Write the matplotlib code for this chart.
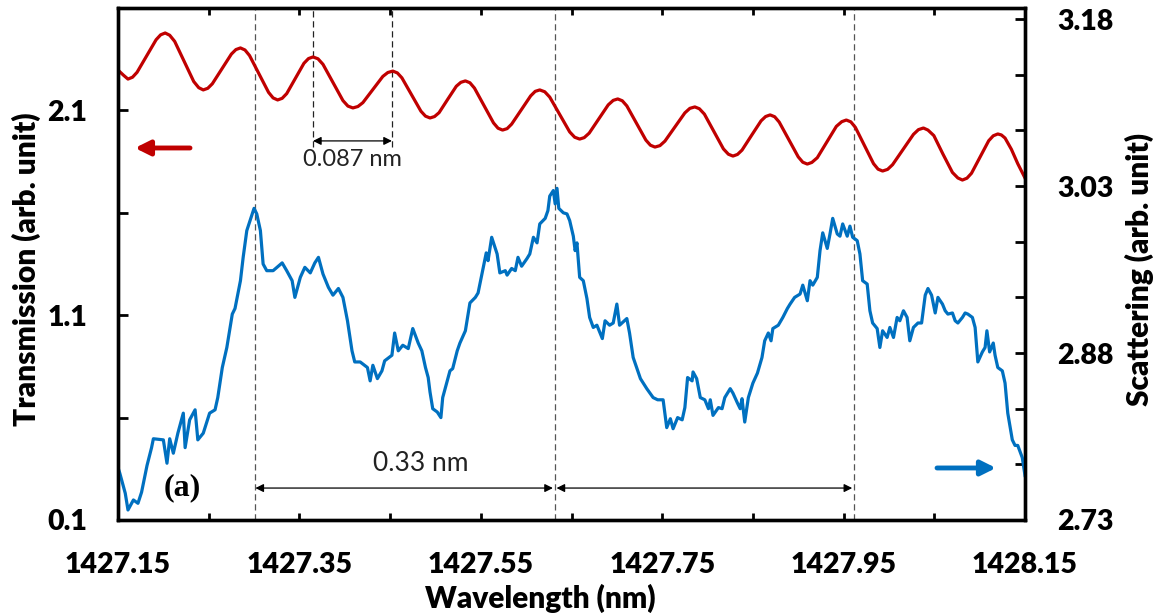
import matplotlib
matplotlib.use("Agg")
import matplotlib.pyplot as plt
from matplotlib.ticker import FixedLocator, FormatStrFormatter

plt.rcParams['font.family'] = ['Lato', 'DejaVu Sans']

# ---- transmission trace (left axis) ----
trans_wl = [
    1427.150, 1427.156, 1427.161,
    1427.166, 1427.171, 1427.1815, 1427.192, 1427.197, 1427.202,
    1427.207, 1427.2125, 1427.223, 1427.2335, 1427.239, 1427.244,
    1427.249, 1427.254, 1427.2645, 1427.275, 1427.280, 1427.285,
    1427.290, 1427.295, 1427.3055, 1427.316, 1427.321, 1427.326,
    1427.331, 1427.336, 1427.3455, 1427.355, 1427.360, 1427.365,
    1427.3705, 1427.376, 1427.387, 1427.398, 1427.4035, 1427.409,
    1427.4145, 1427.420, 1427.431, 1427.442, 1427.4475, 1427.453,
    1427.458, 1427.463, 1427.4735, 1427.484, 1427.489, 1427.494,
    1427.499, 1427.504, 1427.5135, 1427.523, 1427.528, 1427.533,
    1427.538, 1427.543, 1427.5535, 1427.564, 1427.569, 1427.574,
    1427.579, 1427.584, 1427.5945, 1427.605, 1427.610, 1427.615,
    1427.6205, 1427.626, 1427.637, 1427.648, 1427.6535, 1427.659,
    1427.664, 1427.6695, 1427.680, 1427.6905, 1427.696, 1427.701,
    1427.706, 1427.711, 1427.7215, 1427.732, 1427.737, 1427.742,
    1427.7475, 1427.753, 1427.764, 1427.775, 1427.7805, 1427.786,
    1427.791, 1427.7965, 1427.807, 1427.8175, 1427.823, 1427.828,
    1427.833, 1427.838, 1427.8485, 1427.859, 1427.864, 1427.869,
    1427.874, 1427.879, 1427.8895, 1427.900, 1427.905, 1427.910,
    1427.915, 1427.921, 1427.9315, 1427.942, 1427.948, 1427.953,
    1427.958, 1427.963, 1427.973, 1427.983, 1427.988, 1427.993,
    1427.9985, 1428.004, 1428.0155, 1428.027, 1428.0325, 1428.038,
    1428.043, 1428.0495, 1428.0595, 1428.070, 1428.076, 1428.081,
    1428.086, 1428.091, 1428.1005, 1428.110, 1428.115, 1428.120,
    1428.124, 1428.128, 1428.135, 1428.142, 1428.150,
]
trans_val = [
    2.297, 2.272, 2.253,
    2.262, 2.286, 2.366, 2.445, 2.469, 2.478,
    2.467, 2.437, 2.339, 2.241, 2.211, 2.200,
    2.208, 2.230, 2.303, 2.375, 2.397, 2.405,
    2.395, 2.368, 2.278, 2.188, 2.161, 2.151,
    2.159, 2.182, 2.256, 2.330, 2.353, 2.361,
    2.352, 2.325, 2.237, 2.148, 2.121, 2.112,
    2.119, 2.138, 2.202, 2.266, 2.285, 2.292,
    2.283, 2.259, 2.178, 2.096, 2.072, 2.063,
    2.070, 2.089, 2.154, 2.218, 2.237, 2.244,
    2.235, 2.209, 2.124, 2.039, 2.013, 2.004,
    2.011, 2.033, 2.102, 2.171, 2.193, 2.200,
    2.191, 2.165, 2.080, 1.995, 1.969, 1.960,
    1.967, 1.989, 2.058, 2.127, 2.149, 2.156,
    2.147, 2.122, 2.039, 1.955, 1.930, 1.921,
    1.928, 1.950, 2.019, 2.088, 2.110, 2.117,
    2.108, 2.082, 1.997, 1.912, 1.886, 1.877,
    1.885, 1.906, 1.978, 2.049, 2.070, 2.078,
    2.069, 2.043, 1.958, 1.873, 1.847, 1.838,
    1.846, 1.869, 1.946, 2.022, 2.045, 2.053,
    2.044, 2.017, 1.929, 1.840, 1.813, 1.804,
    1.812, 1.835, 1.909, 1.983, 2.006, 2.014,
    2.004, 1.977, 1.887, 1.797, 1.770, 1.760,
    1.769, 1.793, 1.873, 1.952, 1.976, 1.985,
    1.980, 1.965, 1.910, 1.840, 1.770,
]

# ---- scattering trace (right axis) ----
scat_wl = [
    1427.150, 1427.152, 1427.158, 1427.161, 1427.167, 1427.172, 1427.176, 1427.182,
    1427.187, 1427.189, 1427.200, 1427.204, 1427.207, 1427.211, 1427.216, 1427.222,
    1427.224, 1427.229, 1427.235, 1427.238, 1427.244, 1427.251, 1427.257, 1427.260,
    1427.265, 1427.270, 1427.276, 1427.279, 1427.285, 1427.288, 1427.292, 1427.298,
    1427.300, 1427.303, 1427.307, 1427.310, 1427.314, 1427.321, 1427.331, 1427.336,
    1427.342, 1427.345, 1427.351, 1427.356, 1427.362, 1427.367, 1427.371, 1427.376,
    1427.382, 1427.387, 1427.393, 1427.398, 1427.403, 1427.408, 1427.411, 1427.417,
    1427.425, 1427.428, 1427.431, 1427.436, 1427.441, 1427.444, 1427.452, 1427.455,
    1427.459, 1427.464, 1427.470, 1427.475, 1427.481, 1427.485, 1427.489, 1427.492,
    1427.494, 1427.497, 1427.502, 1427.506, 1427.508, 1427.513, 1427.516, 1427.519,
    1427.524, 1427.527, 1427.533, 1427.538, 1427.544, 1427.547, 1427.552, 1427.556,
    1427.558, 1427.562, 1427.568, 1427.571, 1427.577, 1427.579, 1427.584, 1427.588,
    1427.591, 1427.595, 1427.601, 1427.604, 1427.608, 1427.612, 1427.615, 1427.621,
    1427.624, 1427.626, 1427.630, 1427.632, 1427.634, 1427.636, 1427.641, 1427.645,
    1427.648, 1427.652, 1427.654, 1427.656, 1427.659, 1427.663, 1427.667, 1427.670,
    1427.674, 1427.678, 1427.684, 1427.687, 1427.692, 1427.696, 1427.700, 1427.703,
    1427.711, 1427.714, 1427.718, 1427.726, 1427.733, 1427.740, 1427.745, 1427.751,
    1427.755, 1427.759, 1427.762, 1427.767, 1427.772, 1427.775, 1427.778, 1427.783,
    1427.784, 1427.788, 1427.792, 1427.797, 1427.801, 1427.803, 1427.806, 1427.812,
    1427.816, 1427.819, 1427.825, 1427.828, 1427.833, 1427.836, 1427.838, 1427.841,
    1427.845, 1427.850, 1427.855, 1427.860, 1427.863, 1427.867, 1427.870, 1427.872,
    1427.878, 1427.883, 1427.888, 1427.891, 1427.896, 1427.902, 1427.905, 1427.910,
    1427.913, 1427.916, 1427.921, 1427.924, 1427.927, 1427.932, 1427.935, 1427.938,
    1427.943, 1427.946, 1427.949, 1427.954, 1427.957, 1427.960, 1427.965, 1427.968,
    1427.971, 1427.976, 1427.979, 1427.982, 1427.987, 1427.990, 1427.993, 1427.998,
    1428.001, 1428.005, 1428.009, 1428.012, 1428.016, 1428.020, 1428.023, 1428.027,
    1428.032, 1428.036, 1428.040, 1428.043, 1428.047, 1428.051, 1428.054, 1428.059,
    1428.062, 1428.065, 1428.070, 1428.073, 1428.076, 1428.081, 1428.084, 1428.087,
    1428.092, 1428.095, 1428.098, 1428.103, 1428.106, 1428.108, 1428.111, 1428.115,
    1428.117, 1428.120, 1428.125, 1428.128, 1428.131, 1428.136, 1428.139, 1428.142,
    1428.147, 1428.150,
]
scat_val = [
    2.777, 2.772, 2.754, 2.739, 2.748, 2.745, 2.755, 2.779,
    2.795, 2.803, 2.802, 2.781, 2.803, 2.790, 2.808, 2.826,
    2.795, 2.820, 2.829, 2.802, 2.808, 2.826, 2.829, 2.840,
    2.867, 2.885, 2.915, 2.920, 2.945, 2.966, 2.990, 3.005,
    3.010, 3.005, 2.990, 2.960, 2.954, 2.954, 2.961, 2.954,
    2.945, 2.930, 2.948, 2.957, 2.952, 2.961, 2.966, 2.951,
    2.939, 2.932, 2.938, 2.930, 2.909, 2.882, 2.872, 2.872,
    2.867, 2.855, 2.869, 2.857, 2.864, 2.873, 2.878, 2.898,
    2.882, 2.887, 2.884, 2.902, 2.889, 2.882, 2.867, 2.858,
    2.845, 2.830, 2.827, 2.822, 2.840, 2.855, 2.864, 2.866,
    2.882, 2.889, 2.900, 2.925, 2.930, 2.934, 2.954, 2.970,
    2.963, 2.984, 2.969, 2.952, 2.954, 2.950, 2.956, 2.954,
    2.966, 2.958, 2.965, 2.969, 2.984, 2.979, 2.996, 3.001,
    3.008, 3.021, 3.026, 3.014, 3.028, 3.010, 3.006, 3.005,
    2.999, 2.985, 2.972, 2.979, 2.948, 2.945, 2.929, 2.912,
    2.903, 2.905, 2.893, 2.909, 2.905, 2.907, 2.924, 2.905,
    2.911, 2.898, 2.876, 2.857, 2.848, 2.840, 2.838, 2.838,
    2.813, 2.821, 2.812, 2.822, 2.820, 2.831, 2.858, 2.855,
    2.863, 2.857, 2.840, 2.838, 2.830, 2.838, 2.824, 2.831,
    2.830, 2.840, 2.848, 2.844, 2.835, 2.830, 2.839, 2.818,
    2.840, 2.853, 2.862, 2.876, 2.891, 2.898, 2.891, 2.902,
    2.905, 2.912, 2.920, 2.924, 2.930, 2.933, 2.941, 2.927,
    2.945, 2.941, 2.948, 2.972, 2.988, 2.974, 2.987, 3.001,
    2.987, 2.985, 2.996, 2.985, 2.994, 2.984, 2.981, 2.969,
    2.945, 2.942, 2.918, 2.907, 2.902, 2.885, 2.900, 2.894,
    2.903, 2.894, 2.912, 2.909, 2.918, 2.912, 2.891, 2.903,
    2.907, 2.907, 2.932, 2.938, 2.932, 2.916, 2.930, 2.924,
    2.918, 2.915, 2.916, 2.909, 2.907, 2.912, 2.916, 2.915,
    2.912, 2.903, 2.872, 2.881, 2.885, 2.900, 2.881, 2.889,
    2.878, 2.867, 2.864, 2.853, 2.826, 2.802, 2.797, 2.797,
    2.786, 2.770,
]

# resonance markers
scat_peaks = [1427.3015, 1427.6315, 1427.9615]
trans_peaks = [1427.365, 1427.452]

x_major = [1427.15, 1427.35, 1427.55, 1427.75, 1427.95, 1428.15]
x_minor = [1427.25, 1427.45, 1427.65, 1427.85, 1428.05]
left_major = [0.1, 1.1, 2.1]
left_minor = [0.6, 1.6]
right_major = [2.73, 2.88, 3.03, 3.18]
right_minor = [2.78, 2.83, 2.93, 2.98, 3.08, 3.13]

RED = '#C00000'
BLUE = '#0070C0'

fig = plt.figure(figsize=(11.64, 6.13), dpi=100)
ax = fig.add_axes([118 / 1164, 1 - 520 / 613, 907 / 1164, 512 / 613])
ax2 = ax.twinx()

ax.plot(trans_wl, trans_val, color=RED, lw=2.3, solid_joinstyle='round')
ax2.plot(scat_wl, scat_val, color=BLUE, lw=2.3, solid_joinstyle='round')

ax.set_xlim(1427.15, 1428.15)
ax.set_ylim(0.1, 2.6)
ax2.set_ylim(2.73, 3.19)

# ticks
ax.xaxis.set_major_locator(FixedLocator(x_major))
ax.xaxis.set_minor_locator(FixedLocator(x_minor))
ax.xaxis.set_major_formatter(FormatStrFormatter('%.2f'))
ax.yaxis.set_major_locator(FixedLocator(left_major))
ax.yaxis.set_minor_locator(FixedLocator(left_minor))
ax.yaxis.set_major_formatter(FormatStrFormatter('%.1f'))
ax2.yaxis.set_major_locator(FixedLocator(right_major))
ax2.yaxis.set_minor_locator(FixedLocator(right_minor))
ax2.yaxis.set_major_formatter(FormatStrFormatter('%.2f'))

TICK_FS = 20.5
ax.tick_params(axis='x', which='both', direction='in', top=True, bottom=True,
               length=5, width=2, pad=23, labelsize=TICK_FS)
ax.tick_params(axis='y', which='both', direction='in', left=True, right=False,
               length=7, width=2, pad=22, labelsize=TICK_FS)
ax2.tick_params(axis='y', which='both', direction='in', right=True, left=False,
                length=7, width=2, pad=23, labelsize=TICK_FS)
for lab in ax.get_xticklabels() + ax.get_yticklabels() + ax2.get_yticklabels():
    lab.set_fontweight('heavy')

for a in (ax, ax2):
    for sp in a.spines.values():
        sp.set_linewidth(2.4)

LABEL_FS = 21.5
ax.set_xlabel('Wavelength (nm)', fontsize=LABEL_FS, fontweight='heavy')
ax.xaxis.set_label_coords(0.466, -0.125)
ax.set_ylabel('Transmission (arb. unit)', fontsize=LABEL_FS, fontweight='heavy')
ax.yaxis.set_label_coords(-0.085, 0.49)
ax2.set_ylabel('Scattering (arb. unit)', fontsize=LABEL_FS, fontweight='heavy')
ax2.yaxis.set_label_coords(1.110, 0.49)

# dashed guide lines
for p in scat_peaks:
    ax.axvline(p, color='#555555', lw=0.9, ls=(0, (5, 3)), zorder=1)
for p in trans_peaks:
    ax.plot([p, p], [1.921, 2.6], color='#222222', lw=0.9, ls=(0, (5, 3)), zorder=1)

arrow_kw = dict(arrowstyle='<|-|>', color='black', lw=0.9,
                mutation_scale=12, shrinkA=0, shrinkB=0)
ax.annotate('', xy=(trans_peaks[0], 1.951), xytext=(trans_peaks[1], 1.951),
            arrowprops=arrow_kw)
ax.text((trans_peaks[0] + trans_peaks[1]) / 2, 1.862, '0.087 nm',
        ha='center', va='center', fontsize=17, color='#222222')

ax.annotate('', xy=(scat_peaks[0], 0.256), xytext=(scat_peaks[1] - 0.002, 0.256),
            arrowprops=arrow_kw)
ax.annotate('', xy=(scat_peaks[1] + 0.002, 0.256), xytext=(scat_peaks[2] - 0.002, 0.256),
            arrowprops=arrow_kw)
ax.text(0.3335, 0.11, '0.33 nm', transform=ax.transAxes,
        ha='center', va='center', fontsize=19, color='#222222')

# axis-direction arrows
ax.annotate('', xy=(0.0187, 0.7266), xytext=(0.0794, 0.7266),
            xycoords='axes fraction', textcoords='axes fraction',
            arrowprops=dict(arrowstyle='-|>', color=RED, lw=3.5,
                            mutation_scale=22, shrinkA=0, shrinkB=0))
ax.annotate('', xy=(0.968, 0.1016), xytext=(0.903, 0.1016),
            xycoords='axes fraction', textcoords='axes fraction',
            arrowprops=dict(arrowstyle='-|>', color=BLUE, lw=3.5,
                            mutation_scale=22, shrinkA=0, shrinkB=0))

ax.text(0.0706, 0.0625, '(a)', transform=ax.transAxes, ha='center', va='center',
        fontsize=23, fontweight='bold', family=['Liberation Serif', 'DejaVu Serif'])

fig.savefig('out.png', dpi=100)
